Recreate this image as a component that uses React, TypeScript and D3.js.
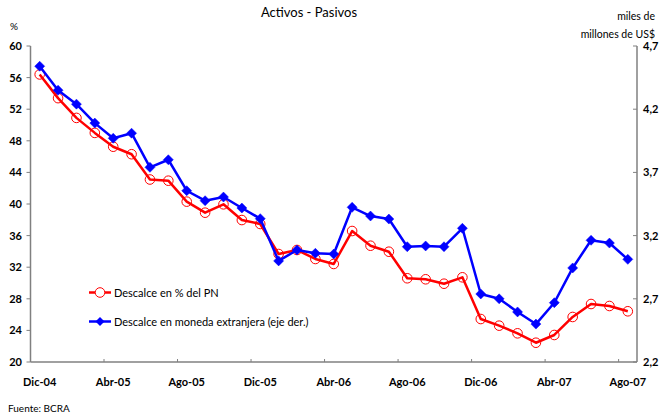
import React from "react";
import * as d3 from "d3";

const months = [
  "Dic-04","Ene-05","Feb-05","Mar-05","Abr-05","May-05","Jun-05","Jul-05","Ago-05","Sep-05","Oct-05","Nov-05",
  "Dic-05","Ene-06","Feb-06","Mar-06","Abr-06","May-06","Jun-06","Jul-06","Ago-06","Sep-06","Oct-06","Nov-06",
  "Dic-06","Ene-07","Feb-07","Mar-07","Abr-07","May-07","Jun-07","Jul-07","Ago-07",
];
const tickLabels = ["Dic-04","Abr-05","Ago-05","Dic-05","Abr-06","Ago-06","Dic-06","Abr-07","Ago-07"];
const pnSeries = [
  56.4, 53.4, 50.9, 49.0, 47.25, 46.3, 43.1, 42.95, 40.3, 38.9, 39.96, 37.97, 37.47,
  33.67, 34.18, 33.04, 32.41, 36.58, 34.72, 33.96, 30.6, 30.47, 29.91, 30.72,
  25.44, 24.6, 23.63, 22.44, 23.42, 25.7, 27.34, 27.09, 26.42,
];
const meSeries = [
  4.54, 4.35, 4.24, 4.09, 3.97, 4.01, 3.74, 3.8, 3.555, 3.476, 3.505, 3.418, 3.334,
  3.0, 3.086, 3.06, 3.054, 3.424, 3.355, 3.331, 3.112, 3.118, 3.112, 3.258,
  2.738, 2.70, 2.596, 2.50, 2.669, 2.944, 3.163, 3.141, 3.012,
];
const leftTicks = [20, 24, 28, 32, 36, 40, 44, 48, 52, 56, 60];
const rightTicks = [2.2, 2.7, 3.2, 3.7, 4.2, 4.7];
const seriesNames = ["Descalce en % del PN", "Descalce en moneda extranjera (eje der.)"];

const W = 665, H = 414;
const L = 30.5, R = 637, T = 46, B = 362;
const FONT = "Lato, 'Open Sans', sans-serif";

export default function App() {
  const x = d3.scaleBand<string>().domain(months).range([L, R]);
  const yL = d3.scaleLinear().domain([20, 60]).range([B, T]);
  const yR = d3.scaleLinear().domain([2.2, 4.7]).range([B, T]);
  const cx = (m: string) => (x(m) as number) + x.bandwidth() / 2;

  const redLine = d3.line<number>().x((_, i) => cx(months[i])).y((d) => yL(d));
  const blueLine = d3.line<number>().x((_, i) => cx(months[i])).y((d) => yR(d));

  const tickIdx = months.map((_, i) => i).filter((i) => i > 0 && i % 4 === 0);
  const diamond = (px: number, py: number, r: number) =>
    `M${px},${py - r}L${px + r},${py}L${px},${py + r}L${px - r},${py}Z`;
  const fmt = (v: number) => v.toFixed(1).replace(".", ",");
  const axisColor = "#808080";

  return (
    <svg width={W} height={H} style={{ position: "absolute", left: 0, top: 0, background: "#fff" }} fontFamily={FONT}>
      <rect width={W} height={H} fill="#fff" />
      <text x={309} y={17} textAnchor="middle" fontSize={13} fill="#000">Activos - Pasivos</text>
      <text x={10} y={30} fontSize={10} fill="#000">%</text>
      <text x={655} y={20} textAnchor="end" fontSize={10.5} fill="#000">miles de</text>
      <text x={655} y={38} textAnchor="end" fontSize={10.5} fill="#000">millones de US$</text>

      {/* left axis */}
      <line x1={L} x2={L} y1={T} y2={B} stroke={axisColor} strokeWidth={1.5} />
      {leftTicks.map((t) => (
        <g key={"l" + t}>
          <line x1={L - 4} x2={L} y1={yL(t)} y2={yL(t)} stroke={axisColor} strokeWidth={1} />
          <text x={22} y={yL(t) + 4} textAnchor="end" fontSize={11} fontWeight="bold" fill="#000">{t}</text>
        </g>
      ))}
      {/* right axis */}
      <line x1={R} x2={R} y1={T} y2={B} stroke={axisColor} strokeWidth={1.5} />
      {rightTicks.map((t) => (
        <g key={"r" + t}>
          <line x1={R - 4} x2={R} y1={yR(t)} y2={yR(t)} stroke={axisColor} strokeWidth={1} />
          <text x={643} y={yR(t) + 4} textAnchor="start" fontSize={11} fontWeight="bold" fill="#000">{fmt(t)}</text>
        </g>
      ))}
      {/* bottom axis */}
      <line x1={L} x2={R} y1={B} y2={B} stroke={axisColor} strokeWidth={1.5} />
      {tickIdx.map((i) => (
        <line key={"b" + i} x1={x(months[i]) as number} x2={x(months[i]) as number} y1={B - 3} y2={B} stroke={axisColor} strokeWidth={1} />
      ))}
      {tickLabels.map((lab) => (
        <text key={lab} x={cx(lab)} y={386} textAnchor="middle" fontSize={11} fontWeight="bold" fill="#000">{lab}</text>
      ))}

      {/* series */}
      <path d={redLine(pnSeries) || ""} fill="none" stroke="#ff0000" strokeWidth={2.5} strokeLinejoin="round" />
      {pnSeries.map((v, i) => (
        <circle key={"c" + i} cx={cx(months[i])} cy={yL(v)} r={4.8} fill="none" stroke="#ff0000" strokeWidth={1} />
      ))}
      <path d={blueLine(meSeries) || ""} fill="none" stroke="#0000ff" strokeWidth={2.5} strokeLinejoin="round" />
      {meSeries.map((v, i) => (
        <path key={"d" + i} d={diamond(cx(months[i]), yR(v), 5)} fill="#0000ff" stroke="#0000ff" strokeWidth={0.5} />
      ))}

      {/* legend */}
      <line x1={89} x2={111} y1={292.5} y2={292.5} stroke="#ff0000" strokeWidth={2.5} />
      <circle cx={100} cy={292.5} r={4.8} fill="#fff" stroke="#ff0000" strokeWidth={1} />
      <text x={114} y={296.5} fontSize={11} fill="#000">{seriesNames[0]}</text>
      <line x1={89} x2={111} y1={321.5} y2={321.5} stroke="#0000ff" strokeWidth={2.5} />
      <path d={diamond(100, 321.5, 4.5)} fill="#0000ff" />
      <text x={114} y={325.5} fontSize={11} fill="#000">{seriesNames[1]}</text>

      <text x={8} y={412} fontSize={10} fill="#000">Fuente: BCRA</text>
    </svg>
  );
}
